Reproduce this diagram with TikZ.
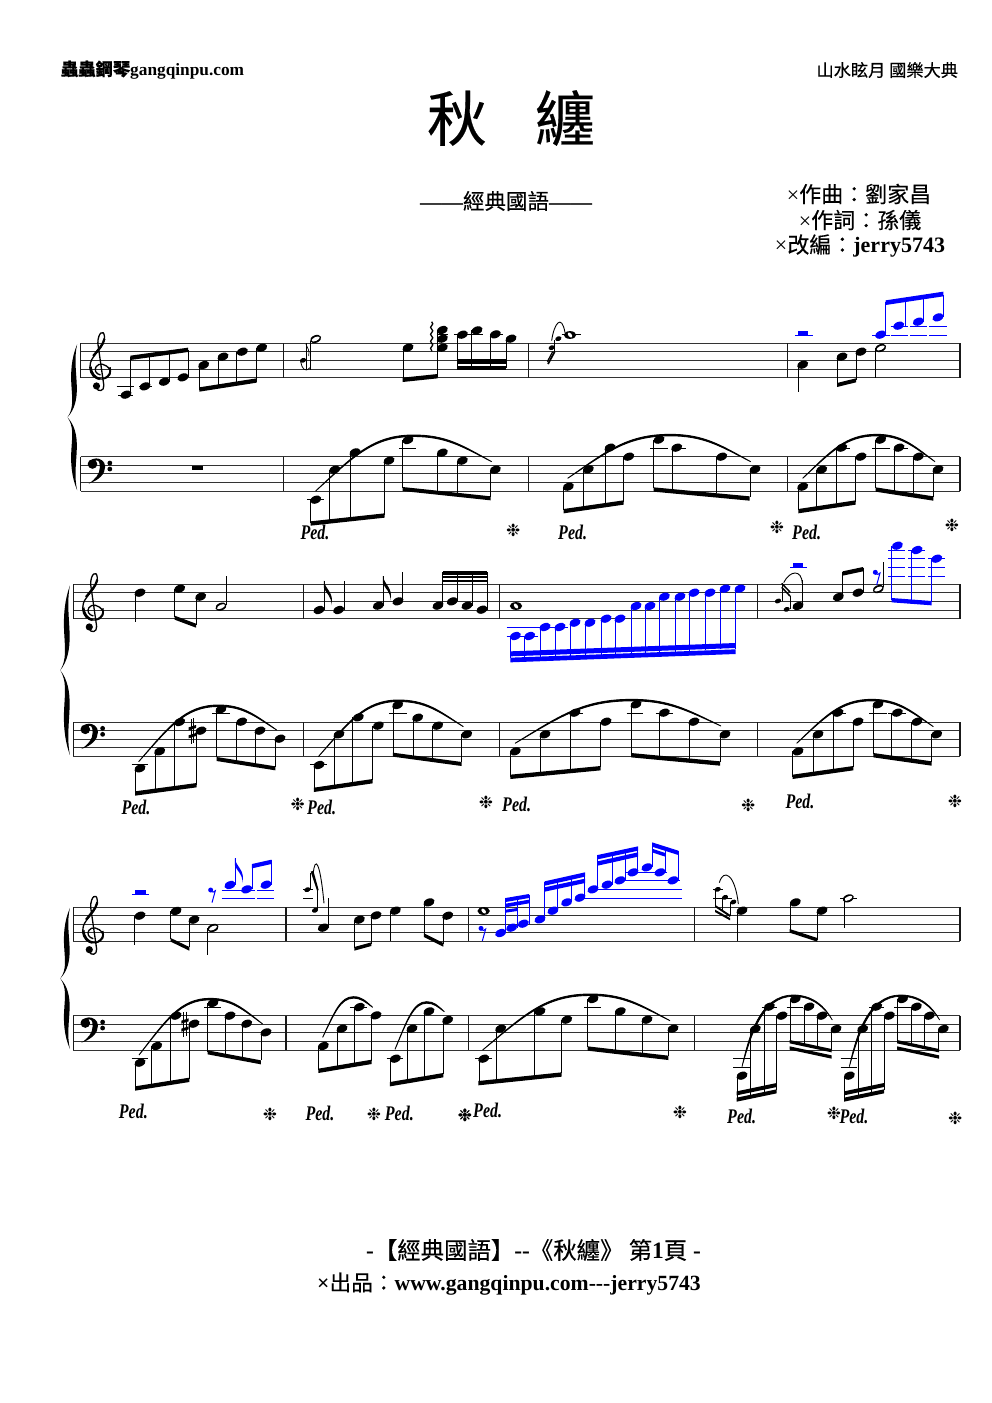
\documentclass[tikz,border=0pt]{standalone}
\usepackage{fontspec}
\setmainfont{Liberation Serif}
\newfontfamily\cjk[FakeBold=0.3]{Noto Sans CJK TC}
\newfontfamily\sym{DejaVu Sans}
\usetikzlibrary{decorations.pathmorphing}
\definecolor{nblue}{RGB}{0,0,255}
\tikzset{
 stfl/.style={line width=1pt,black!80},
 barl/.style={line width=1.2pt,black!90},
 stemline/.style={line width=0.8pt},
 ledl/.style={line width=0.75pt},
 txt/.style={inner sep=0pt,outer sep=0pt},
}
\newcounter{nid}
\newcommand{\txtnode}[4][center]{\stepcounter{nid}\node[txt,anchor=#1] (t\arabic{nid}) at (#2,#3) {#4};}
\newcommand{\staffl}[4]{% x1 x2 ytop ybot
 \pgfmathsetmacro\dd{(#4-#3)/4}
 \foreach \k in {0,...,4}{\draw[stfl] (#1,{#3+\k*\dd}) -- (#2,{#3+\k*\dd});}}
\newcommand{\barln}[3]{\draw[barl] (#1,#2)--(#1,#3);}
\newcommand{\hd}[2]{\fill[rotate around={22:(#1,#2)}] (#1,#2) ellipse [x radius=5.8pt,y radius=3.8pt];}
\newcommand{\nd}[4]{\hd{#1}{#2}\draw[stemline] (#3,#2)--(#3,#4);}
\newcommand{\sn}[2]{\fill[rotate around={22:(#1,#2)}] (#1,#2) ellipse [x radius=3.2pt,y radius=2.3pt];}
\newcommand{\hn}[2]{\hd{#1}{#2}\fill[white,rotate around={25:(#1,#2)}] (#1,#2) ellipse [x radius=4.3pt,y radius=1.9pt];}
\newcommand{\wn}[2]{\fill (#1,#2) ellipse [x radius=6.2pt,y radius=3.9pt];\fill[white,rotate around={-50:(#1,#2)}] (#1,#2) ellipse [x radius=2.9pt,y radius=1.7pt];}
\newcommand{\led}[3]{\draw[ledl] (#1,#3)--(#2,#3);}
\newcommand{\bm}[5]{\fill (#1,#2-1)--(#3,#4-1)--(#3,#4+#5+1)--(#1,#2+#5+1)--cycle;}
\newcommand{\slr}[6]{%
 \pgfmathsetmacro\ca{#1+0.38*(#3-#1)}\pgfmathsetmacro\cb{#2+0.62*(#4-#2)}
 \pgfmathsetmacro\cc{#3-0.42*(#3-#1)}\pgfmathsetmacro\cd{#3+0.42*(#5-#3)}
 \pgfmathsetmacro\ce{#5-0.38*(#5-#3)}\pgfmathsetmacro\cf{#6+0.62*(#4-#6)}
 \draw[line width=0.9pt,fill] (#1,#2) .. controls (\ca,\cb) and (\cc,#4) .. (#3,#4)
  .. controls (\cd,#4) and (\ce,\cf) .. (#5,#6)
  .. controls (\ce,\cf+4) and (\cd,#4+4.5) .. (#3,#4+4.5)
  .. controls (\cc,#4+4.5) and (\ca,\cb+4) .. (#1,#2) -- cycle;}
\newcommand{\flagg}[2]{\fill (#1,#2) .. controls (#1+2,#2+25) and (#1+32,#2+35) .. (#1+22,#2+74) .. controls (#1+24,#2+46) and (#1+5,#2+38) .. (#1,#2+22) -- cycle;}
\newcommand{\rst}[2]{\fill (#1,#2) circle (2.5pt);\draw[line width=1pt] (#1,#2+3) .. controls (#1+5,#2+8) and (#1+10,#2+7) .. (#1+14,#2+2) -- (#1+4,#2+38);}
\newcommand{\shrp}[2]{\draw[line width=0.7pt] (#1-4,#2-36)--(#1-4,#2+38) (#1+4,#2-38)--(#1+4,#2+36);\bm{#1-11}{#2-10}{#1+11}{#2-17}{7}\bm{#1-11}{#2+14}{#1+11}{#2+7}{7}}
\newcommand{\pedm}[2]{\stepcounter{nid}\node[txt] (p\arabic{nid}) at (#1,#2) {\scalebox{1}[1.3]{\fontsize{16}{16}\selectfont\bfseries\itshape Ped.}};}
\newcommand{\pedo}[2]{\stepcounter{nid}\node[txt] (s\arabic{nid}) at (#1,#2) {\fontsize{17}{17}\sym ❉};}
\newcommand{\zoomsc}[2]{\begin{scope}[shift={(#1,#2)},x=0.33333pt,y=-0.33333pt]}
\newcommand{\trebleclef}[2]{\begin{scope}[shift={(#1,#2)},x=0.33333pt,y=-0.33333pt]
 \draw[line width=1.3pt] (60,95) .. controls (46,92) and (40,80) .. (47,70) .. controls (54,58) and (78,60) .. (88,80)
   .. controls (96,100) and (70,112) .. (50,106) .. controls (32,100) and (24,78) .. (30,58)
   .. controls (36,34) and (74,12) .. (72,-20) .. controls (70,-44) and (52,-32) .. (52,0) -- (70,126)
   .. controls (72,144) and (52,148) .. (47,132);
 \fill (48,128) circle (3.6pt);
 \draw[line width=2.4pt] (30,70) .. controls (32,92) and (44,104) .. (58,107);
 \draw[line width=2.2pt] (38,38) .. controls (50,22) and (68,6) .. (72,-14);
 \draw[line width=1.8pt] (88,72) .. controls (93,88) and (85,98) .. (74,104);
 \end{scope}}
\newcommand{\bassclef}[2]{\begin{scope}[shift={(#1,#2)},x=0.33333pt,y=-0.33333pt]
 \fill (36,22) circle (4.8pt);
 \fill (24,81) .. controls (56,70) and (74,52) .. (74,30) .. controls (74,12) and (58,5) .. (47,5)
   .. controls (34,5) and (25,16) .. (28,24) -- (35,22) .. controls (36,14) and (44,11) .. (48,11)
   .. controls (58,11) and (58,24) .. (58,32) .. controls (58,52) and (44,68) .. (24,81) -- cycle;
 \fill (88,19) circle (2.4pt);\fill (88,37) circle (2.4pt);
 \end{scope}}
\newcommand{\bracee}[3]{\pgfmathsetmacro\ys{-#3/444/3}\begin{scope}[shift={(#1,#2)},x=0.33333pt,y=\ys pt]
 \fill (-10,3) .. controls (-28,45) and (-30,90) .. (-27,130) .. controls (-25,165) and (-20,195) .. (-39,222)
  .. controls (-20,249) and (-25,279) .. (-27,314) .. controls (-30,354) and (-28,399) .. (-10,441)
  .. controls (-20,399) and (-12,354) .. (-11,314) .. controls (-10,275) and (-18,245) .. (-39,222)
  .. controls (-18,199) and (-10,169) .. (-11,130) .. controls (-12,90) and (-20,45) .. (-10,3) -- cycle;
 \end{scope}}
\begin{document}
\begin{tikzpicture}[x=1pt,y=-1pt]
\useasboundingbox (0,0) rectangle (992,1403);
\fill[white] (0,0) rectangle (992,1403);
% headers
\txtnode[west]{61}{70}{\fontsize{17.3}{17.3}\selectfont{\cjk\bfseries 蟲蟲鋼琴}\bfseries gangqinpu.com}
\txtnode[east]{958}{70}{\fontsize{17.2}{17.2}\selectfont\cjk 山水眩月 國樂大典}
\txtnode{511}{118}{\fontsize{60}{60}\selectfont\cjk 秋\hspace{48pt}纏}
\txtnode{506}{201}{\fontsize{21.5}{22}\selectfont\bfseries ——{\cjk\mdseries 經典國語}——}
\txtnode{859}{194}{\fontsize{22}{22}\selectfont ×{\cjk 作曲：劉家昌}}
\txtnode{860}{220}{\fontsize{22}{22}\selectfont ×{\cjk 作詞：孫儀}}
\txtnode{860}{246}{\fontsize{22}{22}\selectfont ×{\cjk 改編：}\bfseries jerry5743}
\txtnode{533.5}{1250}{\fontsize{23.4}{24}\selectfont\bfseries -{\cjk\mdseries 【經典國語】}-{}-{\cjk\mdseries 《秋纏》 第}1{\cjk\mdseries 頁} -}
\txtnode{509}{1284}{\fontsize{21.7}{22}\selectfont\bfseries ×{\cjk\mdseries 出品：}www.gangqinpu.com-{}-{}-jerry5743}
% staves
\staffl{80.5}{960}{343.3}{377.7}\staffl{80.5}{960}{456.7}{491}
\staffl{73.3}{960}{584.3}{618.7}\staffl{73.3}{960}{722}{756.3}
\staffl{73.3}{960}{907}{941.3}\staffl{73.3}{960}{1015.7}{1050}
\barln{80.5}{343.3}{377.7}\barln{80.5}{456.7}{491}\barln{283.3}{343.3}{377.7}\barln{283.3}{456.7}{491}
\barln{528.3}{343.3}{377.7}\barln{528.3}{456.7}{491}\barln{787.7}{343.3}{377.7}\barln{787.7}{456.7}{491}\barln{960}{343.3}{377.7}\barln{960}{456.7}{491}
\foreach \xx in {73.3,303.3,499.7,757.7,960}{\draw[barl] (\xx,584.3)--(\xx,618.7) (\xx,722)--(\xx,756.3);}
\foreach \xx in {73.3,286,468.3,694.7,960}{\draw[barl] (\xx,907)--(\xx,941.3) (\xx,1015.7)--(\xx,1050);}
\trebleclef{80.5}{343.3}\trebleclef{73.3}{584.3}\trebleclef{73.3}{907}
\bassclef{80.5}{456.7}\bassclef{73.3}{722}\bassclef{73.3}{1015.7}
\bracee{80.5}{343.3}{444}\bracee{73.3}{584.3}{516}\bracee{73.3}{907}{429}
% ===== zoom 1
\zoomsc{50}{280}
\led{200}{252}{319}\led{205}{250}{345}\led{268}{305}{319}
\nd{228}{344}{241}{232}\nd{285}{319}{298}{228}\nd{343}{305}{357}{222}\nd{399}{292}{414}{210}
\bm{241}{228}{414}{204}{11}
\nd{461}{255}{448}{330}\nd{519}{230}{504}{322}\nd{577}{215}{560}{314}\nd{635}{203}{620}{305}
\bm{448}{323}{620}{296}{11}
\fill (426,558) rectangle (458,570);
% m2 treble
\hn{797}{177}\draw[stemline] (781,182)--(781,270);
\sn{759}{241}\draw[stemline] (768,190)--(768,270);
\draw[line width=0.7pt] (768,192) .. controls (772,205) and (780,210) .. (776,228);
\draw[line width=0.8pt] (752,245) .. controls (756,265) and (764,280) .. (781,262);
\nd{1074}{203}{1059}{300}
\hd{1177}{150}\hd{1177}{176}\hd{1177}{203}\draw[stemline] (1162,150)--(1162,290);
\bm{1058}{294}{1163}{283}{11}
\draw[line width=1.3pt,decorate,decoration={snake,amplitude=1.1pt,segment length=7pt}] (1145,125)--(1145,214);
\led{1162}{1195}{164}\led{1212}{1250}{164}\led{1245}{1300}{164}\led{1320}{1360}{164}
\nd{1237}{164}{1222}{265}\nd{1281}{151}{1265}{258}\nd{1336}{163}{1321}{265}\nd{1383}{176}{1368}{265}
\bm{1222}{238}{1368}{238}{12}\bm{1222}{258}{1368}{258}{10}
% m2 bass
\led{772}{822}{659}\nd{797}{659}{782}{730}\nd{854}{569}{838}{720}\nd{915}{517}{900}{715}\nd{1017}{542}{1002}{705}
\bm{782}{725}{1004}{701}{11}
\led{1047}{1098}{505}\nd{1074}{480}{1058}{625}\nd{1177}{518}{1162}{632}\nd{1237}{542}{1222}{640}\nd{1336}{569}{1322}{650}
\bm{1058}{622}{1322}{650}{10}
\slr{797}{633}{1090}{465}{1325}{545}
\pedm{795}{758}\pedo{1390}{752}
\end{scope}
% ===== zoom 2
\zoomsc{520}{280}
\nd{145}{620}{131}{690}\nd{205}{568}{190}{680}\nd{270}{503}{255}{670}\nd{326}{530}{311}{665}
\bm{131}{688}{311}{662}{11}
\led{390}{443}{505}\led{457}{497}{505}
\nd{417}{479}{401}{625}\nd{470}{503}{457}{630}\nd{605}{530}{590}{640}\nd{705}{568}{690}{650}
\bm{401}{623}{689}{650}{11}
\slr{143}{595}{450}{463}{692}{545}
\led{125}{183}{164}\wn{150}{165}
\sn{115}{176}\sn{95}{203}
\draw[stemline] (104,180)--(104,218);
\draw[line width=1.8pt] (104,215)--(84,252);\draw[line width=1.2pt] (98,215)--(82,245);
\draw[line width=0.9pt] (95,182) .. controls (102,130) and (125,100) .. (135,158);
\pedm{158}{758}\pedo{771}{741}
\begin{scope}[nblue,color=nblue]
\fill (833,152) rectangle (865,164);\led{826}{880}{165}
\led{1056}{1110}{165}\led{1112}{1165}{139}\led{1112}{1165}{165}\led{1170}{1220}{139}\led{1170}{1220}{165}\led{1228}{1280}{139}\led{1228}{1280}{165}
\nd{1082}{164}{1097}{65}\nd{1136}{137}{1155}{60}\nd{1195}{125}{1211}{52}\nd{1254}{112}{1270}{45}
\bm{1097}{62}{1270}{36}{12}
\end{scope}
\nd{848}{254}{835}{335}\nd{966}{230}{951}{315}\nd{1023}{215}{1008}{300}
\bm{951}{310}{1008}{296}{10}
\hn{1082}{204}\draw[stemline] (1067,204)--(1067,293);
\nd{848}{620}{835}{690}\nd{905}{569}{890}{680}\nd{965}{503}{950}{670}\nd{1023}{530}{1007}{665}
\bm{835}{688}{1007}{662}{11}
\led{945}{990}{505}\led{1057}{1110}{505}\led{1123}{1163}{505}
\nd{1082}{479}{1067}{625}\nd{1137}{503}{1123}{632}\nd{1195}{530}{1180}{640}\nd{1254}{568}{1240}{650}
\bm{1067}{623}{1240}{650}{11}
\slr{848}{595}{1070}{463}{1245}{545}
\pedm{860}{758}\pedo{1296}{735}
\end{scope}
% ===== zoom 3
\zoomsc{50}{560}
\nd{270}{98}{255}{187}\nd{389}{86}{374}{170}\nd{452}{110}{438}{195}
\bm{374}{168}{438}{192}{10}
\hn{513}{140}\draw[stemline] (528,135)--(528,48);
\nd{807}{150}{822}{62}\flagg{822}{62}\nd{866}{150}{882}{62}
\nd{985}{137}{999}{48}\flagg{999}{48}\nd{1044}{124}{1058}{36}
\nd{1164}{137}{1178}{35}\nd{1207}{124}{1222}{35}\nd{1251}{137}{1266}{35}\nd{1296}{149}{1311}{35}
\bm{1178}{35}{1312}{35}{8}\bm{1178}{49}{1312}{49}{5}\bm{1178}{60}{1312}{60}{5}
\led{245}{295}{612}\nd{270}{625}{255}{698}\nd{329}{574}{315}{690}\nd{389}{486}{374}{680}\nd{453}{512}{440}{675}
\bm{255}{695}{440}{670}{11}\shrp{427}{513}
\led{487}{540}{460}\nd{513}{448}{500}{592}\nd{575}{485}{560}{600}\nd{630}{512}{616}{610}\nd{690}{536}{675}{620}
\bm{500}{592}{676}{620}{10}
\slr{266}{605}{505}{435}{680}{510}
\pedm{258}{741}\pedo{743}{733}
\led{780}{832}{612}\nd{807}{615}{792}{688}\nd{867}{523}{853}{680}\nd{925}{472}{908}{670}\nd{985}{497}{968}{660}
\bm{792}{684}{968}{658}{11}
\led{1017}{1070}{460}\nd{1043}{435}{1029}{582}\nd{1103}{473}{1089}{590}\nd{1163}{497}{1148}{598}\nd{1250}{523}{1235}{607}
\bm{1029}{579}{1235}{607}{10}
\slr{805}{590}{1045}{420}{1240}{500}
\pedm{815}{741}\pedo{1308}{728}
\end{scope}
% ===== zoom 4
\zoomsc{495}{530}
\wn{63}{228}
\begin{scope}[color=nblue]
\led{35}{135}{292}\led{35}{128}{318}\led{140}{218}{292}
\nd{61}{318}{47}{385}\nd{104}{318}{89}{385}\nd{150}{291}{136}{380}\nd{195}{291}{181}{380}\nd{240}{278}{227}{378}\nd{285}{278}{271}{378}\nd{333}{266}{318}{375}\nd{375}{266}{361}{375}
\nd{423}{228}{408}{370}\nd{465}{228}{451}{370}\nd{508}{200}{494}{365}\nd{555}{200}{541}{365}\nd{597}{188}{584}{362}\nd{645}{188}{631}{360}\nd{690}{176}{675}{358}\nd{735}{176}{721}{356}
\bm{46}{365}{722}{340}{13}\bm{46}{384}{722}{359}{12}
\end{scope}
\nd{61}{664}{47}{740}\nd{150}{613}{136}{730}\led{215}{265}{549}\nd{240}{548}{227}{720}\nd{333}{575}{317}{712}
\bm{46}{735}{317}{709}{11}
\led{395}{445}{549}\led{482}{534}{549}\nd{423}{523}{408}{672}\nd{508}{548}{494}{680}\nd{597}{575}{584}{688}\nd{690}{613}{675}{695}
\bm{408}{670}{675}{695}{11}
\slr{60}{640}{410}{508}{678}{588}
\pedm{65}{823}\pedo{760}{827}
% m8
\sn{849}{213}\sn{875}{238}
\draw[stemline] (862,213)--(862,160);\draw[stemline] (886,238)--(886,198);
\draw[line width=1.5pt] (860,160)--(885,186);\draw[line width=1.5pt] (860,172)--(885,198);
\draw[line width=0.9pt] (866,158) .. controls (885,120) and (920,118) .. (922,160);
\nd{909}{228}{922}{150}
\begin{scope}[color=nblue]\fill (893,98) rectangle (925,111);\led{885}{937}{112}\end{scope}
\nd{1030}{201}{1043}{125}\nd{1089}{188}{1104}{113}\bm{1043}{125}{1104}{112}{11}
\hn{1150}{177}\draw[stemline] (1165,172)--(1165,95);
\begin{scope}[color=nblue]
\rst{1141}{127}
\foreach \yy in {60,86,112,138}{\led{1180}{1230}{\yy}\led{1240}{1290}{\yy}}
\foreach \yy in {86,112,138}{\led{1300}{1350}{\yy}}
\nd{1207}{47}{1190}{210}\nd{1266}{60}{1250}{212}\nd{1325}{86}{1310}{215}
\bm{1190}{205}{1310}{214}{11}
\end{scope}
\nd{909}{664}{893}{740}\nd{969}{613}{955}{730}\led{1005}{1052}{549}\nd{1029}{548}{1014}{720}\nd{1089}{575}{1075}{712}
\bm{893}{735}{1075}{709}{11}
\led{1122}{1175}{549}\led{1180}{1233}{549}\nd{1149}{523}{1135}{672}\nd{1207}{548}{1190}{680}\nd{1266}{575}{1250}{688}\nd{1325}{613}{1310}{695}
\bm{1135}{670}{1310}{695}{11}
\slr{905}{640}{1130}{508}{1315}{590}
\pedm{915}{815}\pedo{1380}{815}
\end{scope}
% ===== zoom 5
\zoomsc{50}{840}
\begin{scope}[color=nblue]\fill (255,150) rectangle (288,161);\led{245}{298}{162}\end{scope}
\nd{270}{227}{254}{315}\nd{378}{213}{362}{297}\nd{432}{239}{417}{322}\bm{362}{295}{418}{322}{9}
\hn{489}{264}\draw[stemline] (473,264)--(473,345);
\begin{scope}[color=nblue]
\rst{482}{150}
\led{515}{615}{150}\led{515}{615}{174}\led{622}{672}{150}\led{622}{672}{174}
\nd{540}{135}{555}{55}\flagg{555}{55}\nd{590}{148}{606}{75}\nd{648}{134}{664}{60}
\bm{606}{73}{664}{60}{11}
\end{scope}
\led{245}{295}{656}\nd{270}{668}{255}{742}\nd{320}{618}{305}{735}\nd{378}{527}{362}{728}\nd{432}{551}{417}{716}
\bm{255}{740}{418}{714}{11}\shrp{405}{553}
\led{462}{512}{502}\nd{489}{489}{473}{635}\nd{540}{527}{526}{642}\nd{590}{551}{577}{650}\nd{648}{577}{633}{660}
\bm{473}{632}{633}{662}{10}
\slr{267}{645}{480}{475}{638}{552}
\pedm{250}{815}\pedo{660}{822}
% m10
\led{760}{790}{148}\led{760}{790}{175}\sn{772}{149}\sn{795}{211}
\draw[stemline] (782,149)--(782,100);\draw[stemline] (803,211)--(803,150);
\fill (782,95)--(790,92)--(806,150)--(801,152)--cycle;
\draw[line width=0.9pt] (790,98) .. controls (795,50) and (810,60) .. (822,190);
\nd{820}{263}{834}{175}
\nd{928}{239}{913}{325}\nd{978}{226}{964}{312}\bm{913}{322}{964}{308}{9}\nd{1036}{212}{1020}{303}
\nd{1137}{187}{1122}{285}\nd{1193}{227}{1179}{312}\bm{1122}{281}{1180}{310}{9}
\nd{820}{618}{805}{690}\nd{876}{566}{861}{680}\led{900}{950}{502}\nd{928}{501}{913}{670}\nd{978}{526}{964}{662}
\bm{805}{687}{965}{660}{11}
\slr{818}{592}{910}{470}{968}{502}
\led{1010}{1060}{656}\nd{1036}{656}{1020}{730}\nd{1086}{566}{1072}{720}\nd{1137}{514}{1122}{712}\nd{1193}{540}{1179}{702}
\bm{1020}{727}{1180}{700}{11}
\slr{1035}{628}{1130}{485}{1183}{515}
\pedm{810}{819}\pedo{972}{822}\pedm{1048}{819}\pedo{1245}{827}
\end{scope}
% ===== zoom 6
\zoomsc{460}{830}
\wn{71}{243}
\begin{scope}[color=nblue]
\rst{63}{295}
\nd{122}{309}{137}{205}\nd{155}{293}{172}{200}\nd{190}{281}{207}{195}
\bm{137}{205}{207}{193}{10}\bm{137}{222}{207}{210}{9}\bm{137}{240}{172}{235}{7}
\nd{240}{268}{254}{155}\nd{279}{242}{292}{150}\nd{320}{217}{335}{140}\nd{360}{203}{374}{130}
\bm{254}{155}{375}{128}{11}\bm{254}{173}{375}{147}{11}
\nd{399}{178}{413}{76}\nd{441}{164}{457}{70}\nd{480}{151}{495}{65}\nd{519}{127}{533}{52}
\bm{413}{76}{534}{50}{11}\bm{413}{95}{534}{68}{11}
\nd{561}{112}{576}{40}\nd{600}{127}{616}{50}\nd{639}{151}{654}{62}
\bm{576}{38}{655}{63}{11}\bm{576}{57}{616}{70}{9}
\led{370}{665}{205}\led{385}{665}{178}\led{495}{660}{152}\led{495}{620}{127}
\end{scope}
\led{45}{95}{686}\nd{71}{686}{57}{758}\nd{122}{596}{108}{750}\nd{240}{544}{224}{738}\nd{320}{569}{305}{730}
\bm{55}{754}{305}{728}{11}
\led{372}{422}{531}\nd{399}{507}{383}{652}\nd{481}{544}{465}{660}\nd{561}{569}{547}{668}\nd{639}{596}{625}{678}
\bm{383}{650}{625}{678}{11}
\slr{68}{660}{390}{492}{630}{572}
\pedm{83}{841}\pedo{15}{857}\pedo{660}{848}
% m12
\led{760}{790}{178}\led{760}{815}{205}
\sn{773}{178}\sn{795}{202}\sn{820}{216}
\draw[stemline] (766,178)--(766,228);\draw[stemline] (788,202)--(788,242);\draw[stemline] (810,216)--(810,258);
\bm{765}{225}{810}{255}{5}\bm{765}{240}{810}{265}{5}
\draw[line width=0.9pt] (778,158) .. controls (790,115) and (825,130) .. (835,222);
\nd{846}{242}{831}{333}
\nd{1006}{217}{990}{300}\nd{1086}{242}{1071}{330}\bm{989}{298}{1072}{325}{9}
\led{1140}{1190}{205}\hn{1165}{205}\draw[stemline] (1152,205)--(1152,293);
\foreach \dx in {0,322}{
\begin{scope}[xshift=\dx*0.33333pt]
\led{820}{870}{686}\led{820}{870}{712}\nd{846}{737}{831}{812}\nd{886}{597}{872}{800}\led{905}{950}{531}\nd{928}{530}{913}{790}\nd{966}{557}{950}{780}
\bm{830}{785}{950}{760}{10}\bm{830}{804}{950}{779}{10}
\led{980}{1030}{531}\nd{1006}{507}{990}{632}\nd{1047}{530}{1033}{640}\nd{1086}{557}{1072}{648}\nd{1128}{597}{1114}{660}
\bm{989}{631}{1115}{658}{8}\bm{989}{650}{1115}{677}{8}
\draw[line width=0.7pt,fill] (846,710) .. controls (866,620) and (900,495) .. (1000,495) .. controls (1060,495) and (1095,530) .. (1117,570)
 .. controls (1095,535) and (1060,499) .. (1000,499) .. controls (905,499) and (872,620) .. (846,710) -- cycle;
\end{scope}}
\pedm{845}{859}\pedo{1122}{850}\pedm{1182}{859}\pedo{1486}{865}
\end{scope}
\end{tikzpicture}
\end{document}
